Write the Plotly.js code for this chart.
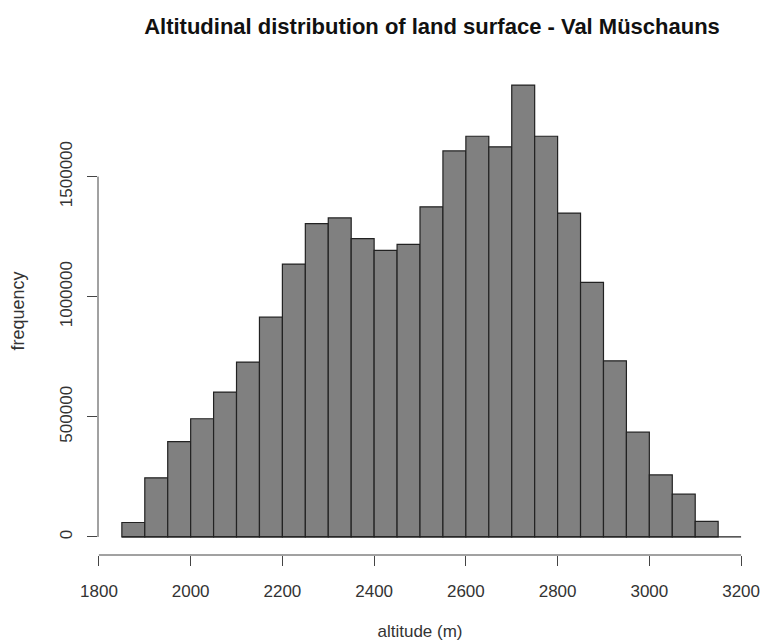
<!DOCTYPE html>
<html>
<head>
<meta charset="utf-8">
<script src="https://cdn.plot.ly/plotly-3.0.1.min.js"></script>
<style>html,body{margin:0;padding:0;background:#fff;}#chart{width:763px;height:643px;}</style>
</head>
<body>
<div id="chart"></div>
<script>
// Histogram of land surface altitude, Val Müschauns
const binStart = 1850;   // lower edge of first bin (m)
const binWidth = 50;     // bin width (m)
const counts = [60000, 246000, 397000, 492000, 603000, 728000, 915000, 1136000, 1304000, 1328000,
                1242000, 1193000, 1218000, 1374000, 1607000, 1668000, 1624000, 1881000, 1668000, 1348000,
                1060000, 733000, 436000, 258000, 178000, 65000];
const xTicks = [1800, 2000, 2200, 2400, 2600, 2800, 3000, 3200];
const yTicks = [0, 500000, 1000000, 1500000];
const titleText = "Altitudinal distribution of land surface - Val Müschauns";
const xTitle = "altitude (m)";
const yTitle = "frequency";

const binCenters = counts.map((_, i) => binStart + binWidth * (i + 0.5));
const binEnd = binStart + binWidth * counts.length;
const xPad = 0.04 * (binEnd - binStart);
const yMax = Math.max(...counts);
const yPad = 0.04 * yMax;

const traces = [
  {
    type: "bar",
    x: binCenters,
    y: counts,
    width: binWidth,
    marker: {color: "#808080", line: {color: "#222", width: 1.2}},
    hoverinfo: "x+y"
  },
  {
    type: "scatter",
    mode: "lines",
    x: [binStart, xTicks[xTicks.length - 1]],
    y: [0, 0],
    line: {color: "#222", width: 1.2},
    hoverinfo: "skip"
  }
];

const axisFont = {family: "Liberation Sans, Arial, sans-serif", size: 17, color: "#333"};
const yTitleFont = {family: "Liberation Sans, Arial, sans-serif", size: 18, color: "#333"};

const layout = {
  width: 763, height: 643,
  margin: {l: 98, r: 21, t: 67, b: 88},
  paper_bgcolor: "#fff", plot_bgcolor: "#fff",
  showlegend: false,
  bargap: 0,
  title: {
    text: "<b>" + titleText + "</b>",
    font: {family: "Liberation Sans, Arial, sans-serif", size: 22, color: "#111"},
    xref: "container", x: 432 / 763, xanchor: "center",
    yref: "container", y: 1 - 26 / 643, yanchor: "middle"
  },
  xaxis: {
    range: [binStart - xPad, binEnd + xPad],
    tickvals: xTicks, ticktext: xTicks.map(String),
    ticks: "outside", ticklen: 10, tickwidth: 1, tickcolor: "#444",
    ticklabelstandoff: 11,
    showgrid: false, zeroline: false, showline: false,
    tickfont: axisFont,
    title: {text: xTitle, font: axisFont, standoff: 24}
  },
  yaxis: {
    range: [-yPad, yMax + yPad],
    tickvals: yTicks, ticktext: yTicks.map(String),
    tickangle: -90,
    ticks: "outside", ticklen: 10, tickwidth: 1, tickcolor: "#444",
    ticklabelstandoff: 8,
    showgrid: false, zeroline: false, showline: false,
    tickfont: axisFont,
    title: {text: yTitle, font: yTitleFont, standoff: 27}
  },
  shapes: [
    {type: "line", xref: "x", yref: "paper", x0: xTicks[0], x1: xTicks[xTicks.length - 1], y0: 0, y1: 0,
     line: {color: "#444", width: 1}},
    {type: "line", xref: "paper", yref: "y", x0: 0, x1: 0, y0: yTicks[0], y1: yTicks[yTicks.length - 1],
     line: {color: "#444", width: 1}}
  ]
};

Plotly.newPlot("chart", traces, layout, {displayModeBar: false, staticPlot: true});
</script>
</body>
</html>
